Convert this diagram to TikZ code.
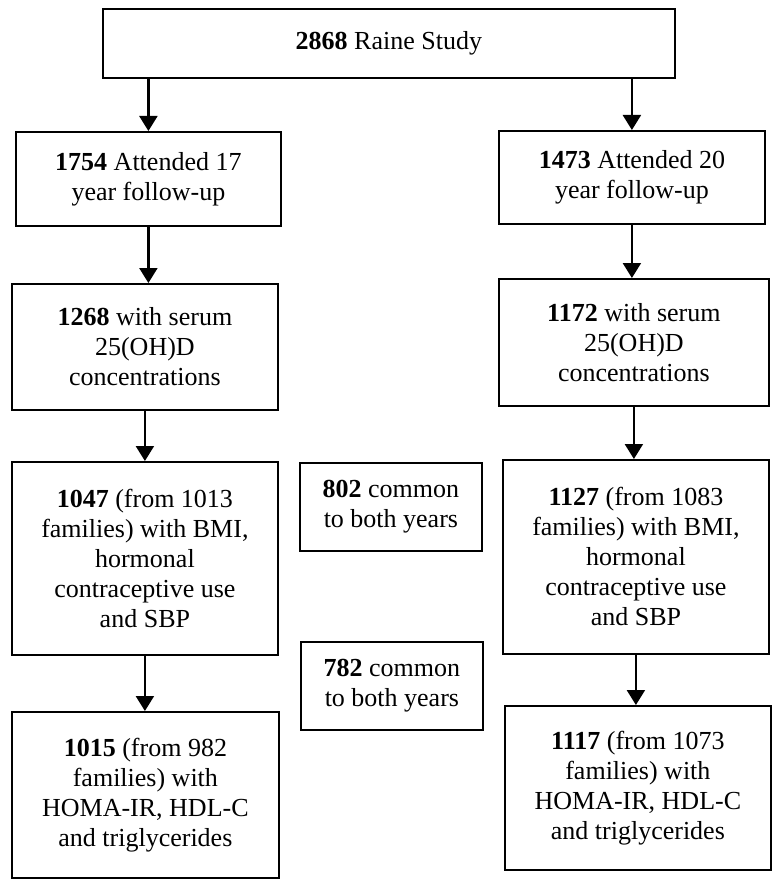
\documentclass[tikz,border=0pt]{standalone}
\usepackage{fontspec}
\setmainfont{Liberation Serif}
\usepackage{tikz}
\usetikzlibrary{arrows.meta,positioning}

\begin{document}
\begin{tikzpicture}[x=1pt,y=-1pt,
  box/.style={draw,line width=1.8pt,anchor=north west,fill=white,align=center,inner sep=2pt,
    font=\fontsize{26pt}{30pt}\selectfont},
  arr/.style={line width=2.2pt,-{Triangle[width=18pt,length=15pt]}}]
 \useasboundingbox (0,0) rectangle (771,880);
 \node[box,minimum height=69pt,minimum width=572pt] (raine) at (102,8) {\textbf{2868} Raine Study};
 \node[box,minimum height=94pt,minimum width=265pt] (a17) at (15,131) {\textbf{1754} Attended 17\\year follow-up};
 \node[box,minimum height=93pt,minimum width=266pt] (a20) at (498,130) {\textbf{1473} Attended 20\\year follow-up};
 \node[box,minimum height=126pt,minimum width=266pt] (s17) at (11,283) {\textbf{1268} with serum\\25(OH)D\\concentrations};
 \node[box,minimum height=127pt,minimum width=270pt] (s20) at (498,278) {\textbf{1172} with serum\\25(OH)D\\concentrations};
 \node[box,minimum height=193pt,minimum width=266pt] (b17) at (11,461) {\textbf{1047} (from 1013\\families) with BMI,\\hormonal\\contraceptive use\\and SBP};
 \node[box,minimum height=88pt,minimum width=182pt] (c802) at (299,462) {\textbf{802} common\\to both years};
 \node[box,minimum height=194pt,minimum width=266pt] (b20) at (502,459) {\textbf{1127} (from 1083\\families) with BMI,\\hormonal\\contraceptive use\\and SBP};
 \node[box,minimum height=88pt,minimum width=182pt] (c782) at (300,641) {\textbf{782} common\\to both years};
 \node[box,minimum height=166pt,minimum width=267pt] (h17) at (11,711) {\textbf{1015} (from 982\\families) with\\HOMA-IR, HDL-C\\and triglycerides};
 \node[box,minimum height=164pt,minimum width=266pt] (h20) at (504,705) {\textbf{1117} (from 1073\\families) with\\HOMA-IR, HDL-C\\and triglycerides};
 % arrows
 \draw[arr] (raine.south -| a17.north) -- (a17.north);
 \draw[arr] (raine.south -| a20.north) -- (a20.north);
 \draw[arr] (a17.south) -- (a17.south |- s17.north);
 \draw[arr] (a20.south) -- (a20.south |- s20.north);
 \draw[arr] (s17.south) -- (s17.south |- b17.north);
 \draw[arr] (s20.south) -- (s20.south |- b20.north);
 \draw[arr] (b17.south) -- (b17.south |- h17.north);
 \draw[arr] (b20.south) -- (b20.south |- h20.north);
\end{tikzpicture}
\end{document}
